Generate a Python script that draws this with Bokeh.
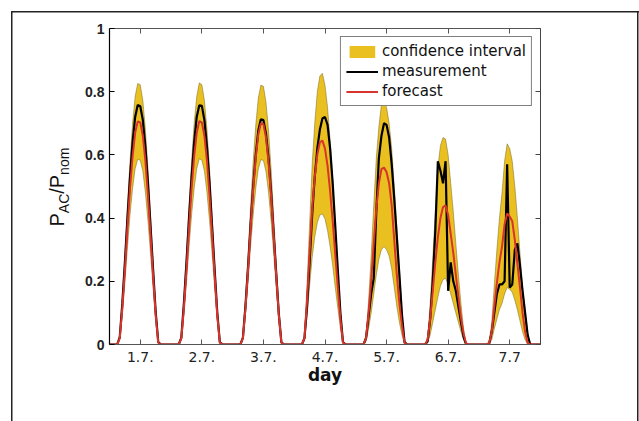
from math import pi
from bokeh.plotting import figure
from bokeh.layouts import row
from bokeh.core.properties import value
from bokeh.models import (Range1d, FixedTicker, LinearAxis, NumeralTickFormatter, Legend,
                          LegendItem, ColumnDataSource, CustomJSTickFormatter)
from bokeh.embed import file_html
from bokeh.resources import INLINE

# ---------------- data ----------------
# sample hours within each day (UTC) for the daylight part; nights are 0
HOURS = [3, 4, 5, 6, 7, 8, 9, 10, 11, 12, 13, 14, 15, 16, 17, 18, 19, 20]
DAY_START = [0, 24, 48, 72, 96, 120, 144]          # hour at which each day begins
X_END = 168
TICK_POS = [12, 36, 60, 84, 108, 132, 156]
TICK_LABELS = ["1.7.", "2.7.", "3.7.", "4.7.", "5.7.", "6.7.", "7.7"]
Y_TICKS = [0, 0.2, 0.4, 0.6, 0.8, 1.0]

measurement = [
    [0, 0.023, 0.13, 0.26, 0.40, 0.53, 0.64, 0.72, 0.758, 0.754, 0.71, 0.625, 0.51, 0.373, 0.236, 0.103, 0.008, 0],
    [0, 0.022, 0.13, 0.26, 0.40, 0.53, 0.64, 0.72, 0.757, 0.755, 0.71, 0.625, 0.51, 0.372, 0.235, 0.102, 0.008, 0],
    [0, 0.021, 0.122, 0.244, 0.38, 0.50, 0.60, 0.677, 0.713, 0.71, 0.667, 0.588, 0.48, 0.35, 0.222, 0.097, 0.007, 0],
    [0, 0.02, 0.12, 0.26, 0.41, 0.53, 0.62, 0.68, 0.715, 0.72, 0.695, 0.62, 0.51, 0.375, 0.235, 0.10, 0.008, 0],
    [0, 0.02, 0.09, 0.16, 0.21, 0.42, 0.59, 0.66, 0.70, 0.695, 0.655, 0.57, 0.46, 0.34, 0.22, 0.095, 0.008, 0],
    [0, 0.01, 0.08, 0.20, 0.36, 0.58, 0.55, 0.51, 0.58, 0.17, 0.26, 0.20, 0.17, 0.12, 0.07, 0.025, 0, 0],
    [0, 0.003, 0.04, 0.10, 0.16, 0.19, 0.19, 0.20, 0.57, 0.18, 0.19, 0.30, 0.32, 0.25, 0.17, 0.10, 0.03, 0],
]
forecast = [
    [0, 0.02, 0.115, 0.235, 0.37, 0.495, 0.595, 0.67, 0.706, 0.703, 0.66, 0.58, 0.47, 0.345, 0.215, 0.093, 0.006, 0],
    [0, 0.02, 0.115, 0.235, 0.37, 0.495, 0.595, 0.67, 0.707, 0.703, 0.66, 0.58, 0.47, 0.345, 0.215, 0.093, 0.006, 0],
    [0, 0.02, 0.115, 0.235, 0.37, 0.49, 0.59, 0.665, 0.70, 0.697, 0.655, 0.575, 0.468, 0.342, 0.215, 0.093, 0.006, 0],
    [0, 0.02, 0.14, 0.29, 0.43, 0.53, 0.60, 0.64, 0.645, 0.62, 0.565, 0.485, 0.39, 0.285, 0.18, 0.08, 0.006, 0],
    [0, 0.02, 0.10, 0.20, 0.32, 0.43, 0.51, 0.555, 0.56, 0.545, 0.51, 0.44, 0.33, 0.22, 0.13, 0.06, 0.005, 0],
    [0, 0.015, 0.08, 0.17, 0.26, 0.34, 0.40, 0.435, 0.44, 0.41, 0.35, 0.29, 0.22, 0.15, 0.085, 0.035, 0.003, 0],
    [0, 0.005, 0.04, 0.12, 0.195, 0.26, 0.31, 0.38, 0.415, 0.405, 0.39, 0.33, 0.255, 0.18, 0.10, 0.04, 0.005, 0],
]
ci_upper = [
    [0, 0.025, 0.14, 0.28, 0.44, 0.58, 0.70, 0.785, 0.826, 0.822, 0.772, 0.68, 0.555, 0.405, 0.255, 0.11, 0.008, 0],
    [0, 0.025, 0.14, 0.28, 0.44, 0.58, 0.70, 0.785, 0.828, 0.822, 0.772, 0.68, 0.555, 0.405, 0.255, 0.11, 0.008, 0],
    [0, 0.025, 0.14, 0.28, 0.437, 0.578, 0.693, 0.78, 0.821, 0.817, 0.767, 0.677, 0.553, 0.404, 0.256, 0.111, 0.008, 0],
    [0, 0.027, 0.19, 0.38, 0.57, 0.70, 0.80, 0.85, 0.858, 0.82, 0.75, 0.645, 0.52, 0.38, 0.24, 0.105, 0.008, 0],
    [0, 0.03, 0.14, 0.28, 0.44, 0.59, 0.69, 0.76, 0.77, 0.75, 0.70, 0.62, 0.50, 0.37, 0.24, 0.10, 0.008, 0],
    [0, 0.022, 0.13, 0.27, 0.42, 0.56, 0.63, 0.655, 0.65, 0.60, 0.51, 0.42, 0.32, 0.22, 0.13, 0.05, 0.004, 0],
    [0, 0.01, 0.07, 0.19, 0.30, 0.40, 0.48, 0.58, 0.635, 0.62, 0.58, 0.50, 0.40, 0.29, 0.18, 0.11, 0.035, 0],
]
ci_lower = [
    [0, 0.017, 0.095, 0.195, 0.307, 0.41, 0.494, 0.556, 0.586, 0.583, 0.548, 0.48, 0.39, 0.286, 0.178, 0.077, 0.005, 0],
    [0, 0.017, 0.095, 0.195, 0.307, 0.41, 0.494, 0.556, 0.588, 0.583, 0.548, 0.48, 0.39, 0.286, 0.178, 0.077, 0.005, 0],
    [0, 0.017, 0.096, 0.196, 0.309, 0.409, 0.493, 0.555, 0.585, 0.582, 0.547, 0.48, 0.39, 0.286, 0.18, 0.078, 0.005, 0],
    [0, 0.013, 0.09, 0.185, 0.275, 0.34, 0.385, 0.41, 0.413, 0.397, 0.36, 0.31, 0.25, 0.18, 0.115, 0.05, 0.004, 0],
    [0, 0.01, 0.05, 0.10, 0.16, 0.22, 0.27, 0.30, 0.31, 0.30, 0.28, 0.24, 0.18, 0.12, 0.07, 0.03, 0.002, 0],
    [0, 0.005, 0.03, 0.07, 0.11, 0.15, 0.185, 0.205, 0.21, 0.19, 0.16, 0.13, 0.10, 0.07, 0.04, 0.015, 0, 0],
    [0, 0, 0.015, 0.05, 0.08, 0.11, 0.13, 0.16, 0.18, 0.175, 0.165, 0.14, 0.11, 0.075, 0.04, 0.015, 0, 0],
]
Y_LABEL_PARTS = ["P", "AC", "/", "P", "nom"]        # P_AC / P_nom
Y_LABEL_IS_SUB = [False, True, False, False, True]

# ---------------- build continuous series ----------------
xs, m_all, f_all, u_all, l_all = [0], [0], [0], [0], [0]
for d, start in enumerate(DAY_START):
    for i, h in enumerate(HOURS):
        xs.append(start + h)
        m_all.append(measurement[d][i])
        f_all.append(forecast[d][i])
        u_all.append(ci_upper[d][i])
        l_all.append(ci_lower[d][i])
xs.append(X_END); m_all.append(0); f_all.append(0); u_all.append(0); l_all.append(0)
src = ColumnDataSource(dict(x=xs, meas=m_all, fc=f_all, up=u_all, lo=l_all))

YELLOW = "#EAC020"
RED = "#D8342B"
W, H = 639, 421
LEFT_W = 75
TOP_B, BOT_B = 28, 77

# ---------------- main figure ----------------
p = figure(width=W - LEFT_W, height=H, x_range=Range1d(0, X_END), y_range=Range1d(0, 1),
           output_backend="svg", toolbar_location=None,
           min_border_left=109 - LEFT_W, min_border_right=99,
           min_border_top=TOP_B, min_border_bottom=BOT_B)
p.background_fill_color = "white"
p.border_fill_alpha = 0
p.outline_line_color = None
p.xgrid.visible = False
p.ygrid.visible = False

band = p.varea(x="x", y1="lo", y2="up", source=src, fill_color=YELLOW, fill_alpha=1)
p.line("x", "up", source=src, line_color="#5a5020", line_width=0.7, line_alpha=0.6)
p.line("x", "lo", source=src, line_color="#5a5020", line_width=0.7, line_alpha=0.6)
mline = p.line("x", "meas", source=src, line_color="black", line_width=2.2)
fline = p.line("x", "fc", source=src, line_color=RED, line_width=2)

xb = p.below[0]
xb.ticker = FixedTicker(ticks=TICK_POS)
xb.major_label_overrides = {t: l for t, l in zip(TICK_POS, TICK_LABELS)}
xb.major_tick_in = 5
xb.major_tick_out = 0
xb.minor_tick_line_color = None
xb.axis_line_color = "#555555"
xb.major_tick_line_color = "#555555"
xb.major_label_text_font = "DejaVu Sans"
xb.major_label_text_font_size = "14px"
xb.major_label_text_color = "#222222"
xb.major_label_standoff = 7
xb.axis_label = "day"
xb.axis_label_text_font = "DejaVu Sans"
xb.axis_label_text_font_size = "17px"
xb.axis_label_text_font_style = "bold"
xb.axis_label_text_color = "#111111"
xb.axis_label_standoff = 0

yl = p.left[0]
yl.ticker = FixedTicker(ticks=Y_TICKS)
yl.formatter = NumeralTickFormatter(format="0.[0]")
yl.major_tick_in = 5
yl.major_tick_out = 0
yl.minor_tick_line_color = None
yl.axis_line_color = "black"
yl.axis_line_width = 1.2
yl.major_label_text_font = "Liberation Sans"
yl.major_label_text_font_size = "14px"
yl.major_label_text_font_style = "bold"
yl.major_label_text_color = "#222222"
yl.major_label_standoff = 5

blank = CustomJSTickFormatter(code="return ''")
top = LinearAxis(ticker=FixedTicker(ticks=TICK_POS), formatter=blank, major_tick_in=5,
                 major_tick_out=0, minor_tick_line_color=None,
                 axis_line_color="#555555", major_tick_line_color="#555555")
p.add_layout(top, "above")
right = LinearAxis(ticker=FixedTicker(ticks=Y_TICKS), formatter=blank, major_tick_in=5,
                   major_tick_out=0, minor_tick_line_color=None,
                   axis_line_color="#444444", major_tick_line_color="#444444")
p.add_layout(right, "right")

legend = Legend(items=[LegendItem(label="confidence interval", renderers=[band]),
                       LegendItem(label="measurement", renderers=[mline]),
                       LegendItem(label="forecast", renderers=[fline])],
                location="top_right", margin=8, padding=5, spacing=2,
                glyph_width=32, glyph_height=15, label_height=16, label_standoff=4,
                border_line_color="black", border_line_width=1,
                background_fill_color="white", background_fill_alpha=1,
                label_text_font="DejaVu Sans", label_text_font_size="15px",
                label_text_color="#111111")
p.add_layout(legend)

# ---------------- left strip carrying the rotated y label ----------------
# its frame spans the same rows as the main frame; data units = canvas pixels
q = figure(width=LEFT_W, height=H, x_range=Range1d(0, LEFT_W), y_range=Range1d(H - BOT_B, TOP_B),
           output_backend="svg", toolbar_location=None,
           x_axis_location=None, y_axis_location=None,
           min_border_left=0, min_border_right=0, min_border_top=TOP_B, min_border_bottom=BOT_B)
q.outline_line_color = None
q.background_fill_alpha = 0
q.border_fill_alpha = 0
q.xgrid.visible = False
q.ygrid.visible = False

big_x, sub_x = 56, 63
piece_y = [226, 212.7, 193.3, 187.7, 174.4]
for text, is_sub, yy in zip(Y_LABEL_PARTS, Y_LABEL_IS_SUB, piece_y):
    q.text(x=[sub_x if is_sub else big_x], y=[yy], text=[text], angle=pi / 2,
           text_align="left", text_baseline="alphabetic",
           text_font=value("Liberation Sans"),
           text_font_size="14px" if is_sub else "20px", text_color="#111111")

lay = row(q, p, styles={
    "background-color": "white",
    "background-image": "linear-gradient(#222,#222), linear-gradient(#222,#222), linear-gradient(#222,#222)",
    "background-size": "1.5px 410px, 628px 1.5px, 1.5px 410px",
    "background-position": "11px 11px, 11px 11px, 637px 11px",
    "background-repeat": "no-repeat",
})

open("out.html", "w").write(file_html(lay, INLINE))
